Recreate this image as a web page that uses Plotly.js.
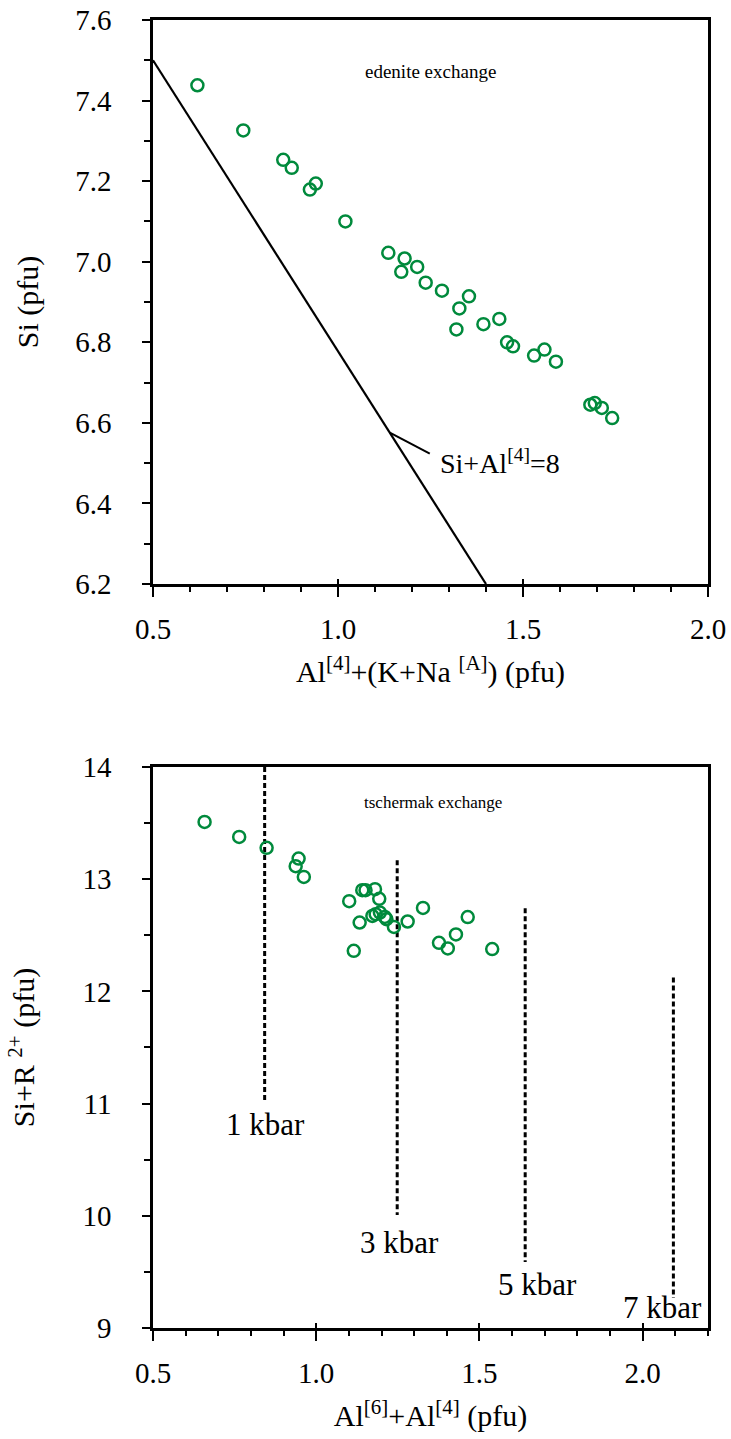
<!DOCTYPE html>
<html>
<head>
<meta charset="utf-8">
<script src="https://cdn.plot.ly/plotly-3.0.1.min.js"></script>
<style>
  html, body { margin: 0; padding: 0; background: #fff; }
  #chart { width: 731px; height: 1439px; }
</style>
</head>
<body>
<div id="chart"></div>
<script>
// Edenite exchange: Al[4]+(K+Na[A]) vs Si (pfu)
const edeniteX = [0.620, 0.744, 0.852, 0.875, 0.924, 0.940, 1.020, 1.136, 1.180, 1.171,
                  1.214, 1.237, 1.281, 1.354, 1.328, 1.320, 1.393, 1.436, 1.457, 1.473,
                  1.530, 1.558, 1.589, 1.682, 1.694, 1.713, 1.741];
const edeniteY = [7.438, 7.326, 7.253, 7.233, 7.179, 7.194, 7.100, 7.022, 7.008, 6.975,
                  6.987, 6.948, 6.928, 6.914, 6.884, 6.832, 6.845, 6.858, 6.800, 6.790,
                  6.767, 6.782, 6.752, 6.645, 6.649, 6.637, 6.612];

// Reference line Si+Al[4]=8
const refLineX = [0.5, 1.4];
const refLineY = [7.5, 6.2];
const refLabel = 'Si+Al<sup>[4]</sup>=8';
const refLabelPos = [1.270, 6.503];
const refLeaderAt = [1.14, 6.5756];

// Tschermak exchange: Al[6]+Al[4] vs Si+R2+ (pfu)
const tschX = [0.658, 0.764, 0.848, 0.946, 0.937, 0.962, 1.101, 1.141, 1.151, 1.180,
               1.193, 1.133, 1.172, 1.182, 1.195, 1.210, 1.215, 1.238, 1.280, 1.327,
               1.115, 1.376, 1.428, 1.403, 1.464, 1.539];
const tschY = [13.510, 13.377, 13.280, 13.184, 13.116, 13.020, 12.804, 12.902, 12.902, 12.911,
               12.825, 12.614, 12.673, 12.688, 12.703, 12.664, 12.644, 12.575, 12.623, 12.744,
               12.362, 12.433, 12.508, 12.383, 12.662, 12.377];

// Isobars (dashed)
const isobarLabels = ['1 kbar', '3 kbar', '5 kbar', '7 kbar'];
const isobarX      = [0.842, 1.248, 1.640, 2.094];
const isobarTop    = [14.0, 13.17, 12.74, 12.125];
const isobarBottom = [11.008, 10.008, 9.589, 9.267];
const isobarLabelX = [0.845, 1.256, 1.679, 2.062];
const isobarLabelY = [10.81, 9.76, 9.385, 9.18];

const GREEN = '#008a3c';
const FONT = '"Liberation Serif", "Times New Roman", serif';

const markerStyle = {
  symbol: 'circle-open',
  size: 12,
  color: GREEN,
  line: { color: GREEN, width: 2.5 }
};

const traces = [
  {
    x: refLineX, y: refLineY, xaxis: 'x', yaxis: 'y',
    mode: 'lines', line: { color: '#000', width: 2.2 },
    hoverinfo: 'skip'
  },
  {
    x: edeniteX, y: edeniteY, xaxis: 'x', yaxis: 'y',
    mode: 'markers', marker: markerStyle, cliponaxis: false
  }
];

isobarX.forEach((xv, i) => {
  traces.push({
    x: [xv, xv], y: [isobarTop[i], isobarBottom[i]],
    xaxis: 'x2', yaxis: 'y2',
    mode: 'lines', line: { color: '#000', width: 3, dash: '5px,3px' },
    hoverinfo: 'skip'
  });
});

traces.push({
  x: tschX, y: tschY, xaxis: 'x2', yaxis: 'y2',
  mode: 'markers', marker: markerStyle, cliponaxis: false
});

// empty traces so the overlaid inner-tick axes are drawn
traces.push({ x: [], y: [], xaxis: 'x3', yaxis: 'y', mode: 'markers', hoverinfo: 'skip' });
traces.push({ x: [], y: [], xaxis: 'x4', yaxis: 'y2', mode: 'markers', hoverinfo: 'skip' });

function xAxis(range, anchor, title) {
  return {
    anchor: anchor, range: range,
    tick0: 0.5, dtick: 0.5, tickformat: '.1f',
    ticks: 'outside', ticklen: 10, tickwidth: 2, tickcolor: '#000',
    ticklabelstandoff: 7,
    minor: { dtick: 0.1, ticks: 'outside', ticklen: 5, tickwidth: 2, tickcolor: '#000' },
    showline: true, linewidth: 2.7, linecolor: '#000', mirror: true,
    showgrid: false, zeroline: false,
    tickfont: { size: 29, family: FONT, color: '#000' },
    title: { text: title, font: { size: 30, family: FONT, color: '#000' }, standoff: 18 }
  };
}
function xInside(overlay, anchor, range) {
  return {
    overlaying: overlay, anchor: anchor, range: range,
    tick0: 0.5, dtick: 0.5, ticks: 'inside', ticklen: 5, tickwidth: 2, tickcolor: '#000',
    showticklabels: false, showline: false, showgrid: false, zeroline: false
  };
}
function yAxis(range, domain, anchor, dtick, minorStep, fmt, title, standoff) {
  return {
    domain: domain, range: range, anchor: anchor,
    dtick: dtick, tickformat: fmt,
    ticks: 'outside', ticklen: 8, tickwidth: 2, tickcolor: '#000',
    ticklabelstandoff: 25,
    minor: { dtick: minorStep, ticks: 'outside', ticklen: 6, tickwidth: 2, tickcolor: '#000' },
    showline: true, linewidth: 2.7, linecolor: '#000', mirror: true,
    showgrid: false, zeroline: false,
    tickfont: { size: 29, family: FONT, color: '#000' },
    title: { text: title, font: { size: 30, family: FONT, color: '#000' }, standoff: standoff }
  };
}

const annotations = [
  {
    xref: 'x', yref: 'y', x: 1.249, y: 7.471, text: 'edenite exchange',
    showarrow: false, font: { size: 19, family: FONT, color: '#000' }
  },
  {
    xref: 'x2', yref: 'y2', x: 1.358, y: 13.68, text: 'tschermak exchange',
    showarrow: false, font: { size: 17, family: FONT, color: '#000' }
  },
  {
    xref: 'x', yref: 'y', x: refLabelPos[0], y: refLabelPos[1], text: refLabel,
    xanchor: 'left', yanchor: 'middle',
    showarrow: false, font: { size: 28, family: FONT, color: '#000' }
  }
];

isobarLabels.forEach((t, i) => {
  annotations.push({
    xref: 'x2', yref: 'y2', x: isobarLabelX[i], y: isobarLabelY[i], text: t,
    showarrow: false, font: { size: 31, family: FONT, color: '#000' }
  });
});

// leader from the reference line towards its label
const shapes = [{
  type: 'line', xref: 'x', yref: 'y',
  xsizemode: 'pixel', ysizemode: 'pixel',
  xanchor: refLeaderAt[0], yanchor: refLeaderAt[1],
  x0: 0, y0: 0, x1: 40, y1: -21,
  line: { color: '#000', width: 2 }
}];

const layout = {
  width: 731, height: 1439,
  margin: { l: 153, r: 23, t: 20, b: 111 },
  paper_bgcolor: '#fff', plot_bgcolor: '#fff',
  showlegend: false,
  font: { family: FONT, color: '#000' },
  xaxis: xAxis([0.5, 2.0], 'y', 'Al<sup>[4]</sup>+(K+Na <sup>[A]</sup>) (pfu)'),
  yaxis: yAxis([6.2, 7.6], [0.5688, 1], 'x', 0.2, 0.1, '.1f', 'Si (pfu)', 28),
  xaxis2: xAxis([0.5, 2.2], 'y2', 'Al<sup>[6]</sup>+Al<sup>[4]</sup> (pfu)'),
  yaxis2: yAxis([9, 14], [0, 0.4289], 'x2', 1, 0.5, 'd', 'Si+R <sup>2+</sup> (pfu)', 39),
  xaxis3: xInside('x', 'y', [0.5, 2.0]),
  xaxis4: xInside('x2', 'y2', [0.5, 2.2]),
  annotations: annotations,
  shapes: shapes
};

Plotly.newPlot('chart', traces, layout, { staticPlot: true, displayModeBar: false });
</script>
</body>
</html>
